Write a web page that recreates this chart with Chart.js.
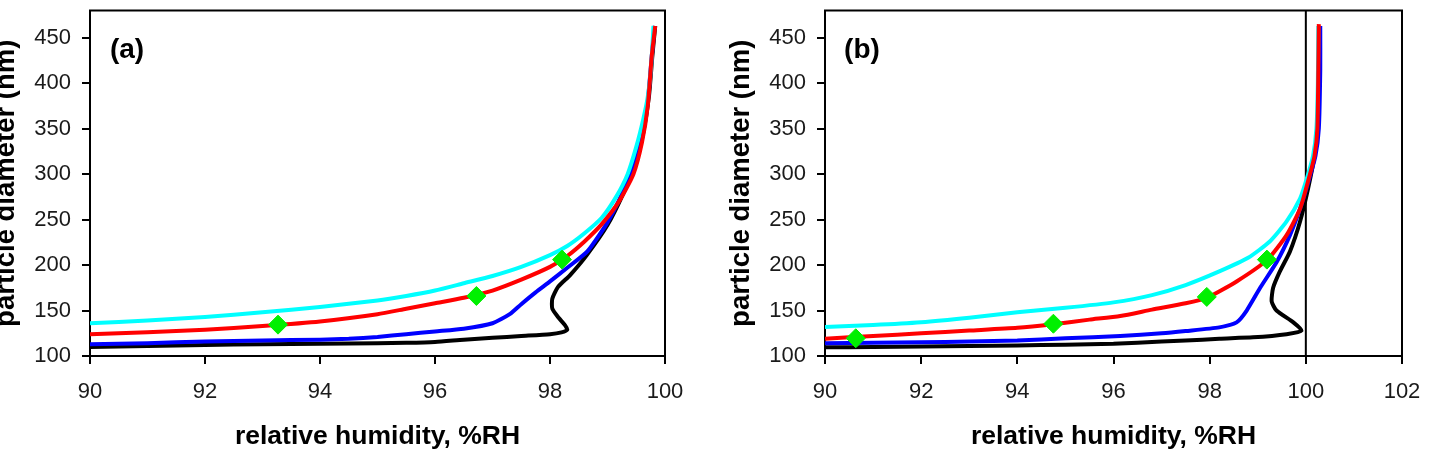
<!DOCTYPE html>
<html>
<head>
<meta charset="utf-8">
<title>particle diameter vs relative humidity</title>
<script src="https://cdn.jsdelivr.net/npm/chart.js@4.4.1/dist/chart.umd.min.js"></script>
<style>
  html, body { margin: 0; padding: 0; background: #fff; }
  #wrap { position: relative; width: 1431px; height: 462px; overflow: hidden; }
  canvas { position: absolute; top: 0; }
  #chart-a { left: 0; }
  #chart-b { left: 715px; }
</style>
</head>
<body>
<div id="wrap">
  <canvas id="chart-a" width="715" height="462"></canvas>
  <canvas id="chart-b" width="716" height="462"></canvas>
</div>
<script>
// --- panel (a) ---
const A_CYAN_RH = [90, 91, 92, 93, 94, 95, 95.5, 96, 96.5, 97, 97.5, 98, 98.3, 98.6, 98.9, 99.15, 99.35, 99.5, 99.62, 99.7, 99.76, 99.8];
const A_CYAN_D  = [136, 139, 143, 148, 154, 161, 166, 172, 180, 188, 198, 211, 221, 235, 252, 275, 300, 330, 360, 385, 420, 463];

const A_RED_RH = [90, 91, 92, 93, 94, 95, 95.5, 96, 96.5, 97, 97.5, 98, 98.3, 98.6, 98.9, 99.2, 99.45, 99.6, 99.7, 99.77, 99.83];
const A_RED_D  = [124, 126, 129, 133, 138, 146, 152, 158, 164, 172, 184, 198, 210, 226, 245, 270, 300, 335, 375, 430, 463];

const A_BLUE_RH = [90, 91, 92, 93, 94, 94.5, 95, 95.5, 96, 96.5, 97, 97.3, 97.5, 97.75, 98, 98.3, 98.65, 99, 99.25, 99.45, 99.6, 99.7, 99.77, 99.82];
const A_BLUE_D  = [113, 114, 116, 117, 118, 119, 121, 124, 127, 130, 136, 146, 157, 170, 182, 197, 215, 247, 278, 310, 340, 380, 430, 463];

const A_BLACK_RH = [90, 91, 92, 93, 94, 95, 95.5, 96, 96.5, 97, 97.5, 98, 98.2, 98.3, 98.26, 98.15, 98.04, 98.04, 98.14, 98.35, 98.64, 99, 99.27, 99.48, 99.62, 99.72, 99.78, 99.83];
const A_BLACK_D  = [110, 111, 112, 113, 113.5, 114, 114.5, 115.5, 118, 120, 122, 124, 126, 129, 134, 142, 152, 163, 176, 189, 211, 244, 278, 310, 345, 385, 430, 463];

const A_MARK_RH = [93.27, 96.72, 98.21];
const A_MARK_D  = [134.5, 166, 206];

// --- panel (b) ---
const B_CYAN_RH = [90, 91, 92, 93, 94, 95, 96, 96.8, 97.5, 98.2, 98.8, 99.25, 99.6, 99.88, 100.02, 100.15, 100.22, 100.25, 100.26];
const B_CYAN_D  = [132, 134, 137, 142, 148, 153, 159, 167, 178, 193, 208, 226, 248, 273, 295, 320, 350, 400, 463];

const B_RED_RH = [90, 91, 92, 93, 94, 94.75, 95.5, 96.14, 96.8, 97.5, 97.94, 98.56, 99.2, 99.6, 99.88, 100.05, 100.18, 100.24, 100.26, 100.27];
const B_RED_D  = [119, 122, 125, 128, 131, 135, 140, 144, 151, 158, 164, 182, 206, 233, 262, 293, 320, 350, 415, 465];

const B_BLUE_RH = [90, 91, 92, 93, 94, 95, 96.14, 97, 97.5, 98.2, 98.56, 98.77, 99.05, 99.4, 99.67, 99.88, 100.05, 100.2, 100.27, 100.3, 100.3];
const B_BLUE_D  = [114, 114.5, 115, 116, 117, 119.5, 122, 125, 127.5, 131.5, 137, 150, 175, 204, 233, 262, 291, 320, 350, 415, 463];

const B_BLACK_RH = [90, 91, 92, 93, 94, 95, 96, 97, 97.5, 98.2, 98.9, 99.6, 99.91, 99.74, 99.39, 99.29, 99.32, 99.46, 99.67, 99.88, 100.05, 100.18, 100.25, 100.28, 100.29];
const B_BLACK_D  = [109.5, 110, 110.5, 111, 111.5, 112.5, 113.5, 116, 117, 119, 120.5, 124, 128, 137, 150, 160, 175, 193, 215, 248, 285, 320, 350, 415, 463];

const B_MARK_RH = [90.64, 94.75, 97.94, 99.19];
const B_MARK_D  = [119.5, 135.5, 165, 206];

// saturation line (RH = 100 %)
const B_SAT_RH = [100, 100];
const B_SAT_D  = [100, 480];

// axes
const X_MIN = 90;
const A_X_MAX = 100;
const B_X_MAX = 102;
const X_STEP = 2;
const Y_MIN = 100;
const Y_MAX = 480;
const Y_STEP = 50;

const FONT = "'Liberation Sans', Arial, Helvetica, sans-serif";
Chart.defaults.font.family = FONT;

const pts = (rh, d) => rh.map((x, i) => ({ x, y: d[i] }));

function curve(rh, d, color) {
  return {
    data: pts(rh, d),
    showLine: true,
    borderColor: color,
    backgroundColor: color,
    borderWidth: 4,
    pointRadius: 0,
    tension: 0.2,
  };
}

function markers(rh, d) {
  return {
    data: pts(rh, d),
    showLine: false,
    pointStyle: "rectRot",
    pointRadius: 9.5,
    pointBackgroundColor: "#00f000",
    pointBorderColor: "#00f000",
    pointBorderWidth: 1,
  };
}

// box round the plot area + panel letter
const framePlugin = {
  id: "frame",
  beforeDatasetsDraw(chart) {
    const { ctx, chartArea: a } = chart;
    ctx.save();
    ctx.strokeStyle = "#000";
    ctx.lineWidth = 2;
    ctx.strokeRect(a.left, a.top, a.right - a.left, a.bottom - a.top);
    ctx.restore();
  },
  afterDraw(chart, args, opts) {
    const { ctx, chartArea: a } = chart;
    ctx.save();
    ctx.fillStyle = "#000";
    ctx.font = `bold 28px ${FONT}`;
    ctx.textAlign = "center";
    ctx.textBaseline = "middle";
    ctx.fillText(opts.label, a.left + 37, a.top + 40);
    ctx.restore();
  },
};

// yWidth: room left of the plot, titlePad: shift of the y title
function panelOptions(xMax, yWidth, rightPad, titlePad, label) {
  return {
    responsive: false,
    animation: false,
    events: [],
    layout: { padding: { left: 0, top: 7, right: rightPad, bottom: 0 } },
    plugins: {
      legend: { display: false },
      tooltip: { enabled: false },
      frame: { label },
    },
    scales: {
      x: {
        type: "linear",
        position: "bottom",
        min: X_MIN,
        max: xMax,
        border: { display: false },
        grid: { display: true, drawOnChartArea: false, drawTicks: true, tickLength: 8, color: "#000", lineWidth: 2 },
        ticks: { stepSize: X_STEP, padding: 15, color: "#1a1a1a", font: { size: 22 }, maxRotation: 0 },
        title: {
          display: true,
          text: "relative humidity, %RH",
          color: "#000",
          font: { size: 26.5, weight: "bold", lineHeight: 1.2 },
          padding: { top: 0, bottom: 9 },
        },
        afterFit: (s) => {
          s.height = 106;
          s.paddingLeft = 0;
          s.paddingRight = 0;
        },
      },
      y: {
        type: "linear",
        min: Y_MIN,
        max: Y_MAX,
        border: { display: false },
        grid: { display: true, drawOnChartArea: false, drawTicks: true, tickLength: 8, color: "#000", lineWidth: 2 },
        ticks: { stepSize: Y_STEP, includeBounds: false, padding: 11, color: "#1a1a1a", font: { size: 22 } },
        title: {
          display: true,
          text: "particle diameter (nm)",
          color: "#000",
          font: { size: 27.5, weight: "bold", lineHeight: 0.5 },
          padding: { top: titlePad, bottom: 0 },
        },
        afterFit: (s) => {
          s.width = yWidth;
          s.paddingTop = 0;
          s.paddingBottom = 0;
        },
      },
    },
  };
}

new Chart(document.getElementById("chart-a"), {
  type: "scatter",
  data: {
    datasets: [
      markers(A_MARK_RH, A_MARK_D),
      curve(A_RED_RH, A_RED_D, "#ff0000"),
      curve(A_CYAN_RH, A_CYAN_D, "#00ffff"),
      curve(A_BLUE_RH, A_BLUE_D, "#0000ff"),
      curve(A_BLACK_RH, A_BLACK_D, "#000000"),
    ],
  },
  options: panelOptions(A_X_MAX, 90, 50, 0, "(a)"),
  plugins: [framePlugin],
});

new Chart(document.getElementById("chart-b"), {
  type: "scatter",
  data: {
    datasets: [
      markers(B_MARK_RH, B_MARK_D),
      curve(B_RED_RH, B_RED_D, "#ff0000"),
      curve(B_CYAN_RH, B_CYAN_D, "#00ffff"),
      curve(B_BLUE_RH, B_BLUE_D, "#0000ff"),
      curve(B_BLACK_RH, B_BLACK_D, "#000000"),
      { ...curve(B_SAT_RH, B_SAT_D, "#000000"), borderWidth: 2, tension: 0 },
    ],
  },
  options: panelOptions(B_X_MAX, 110, 29, 20, "(b)"),
  plugins: [framePlugin],
});
</script>
</body>
</html>
